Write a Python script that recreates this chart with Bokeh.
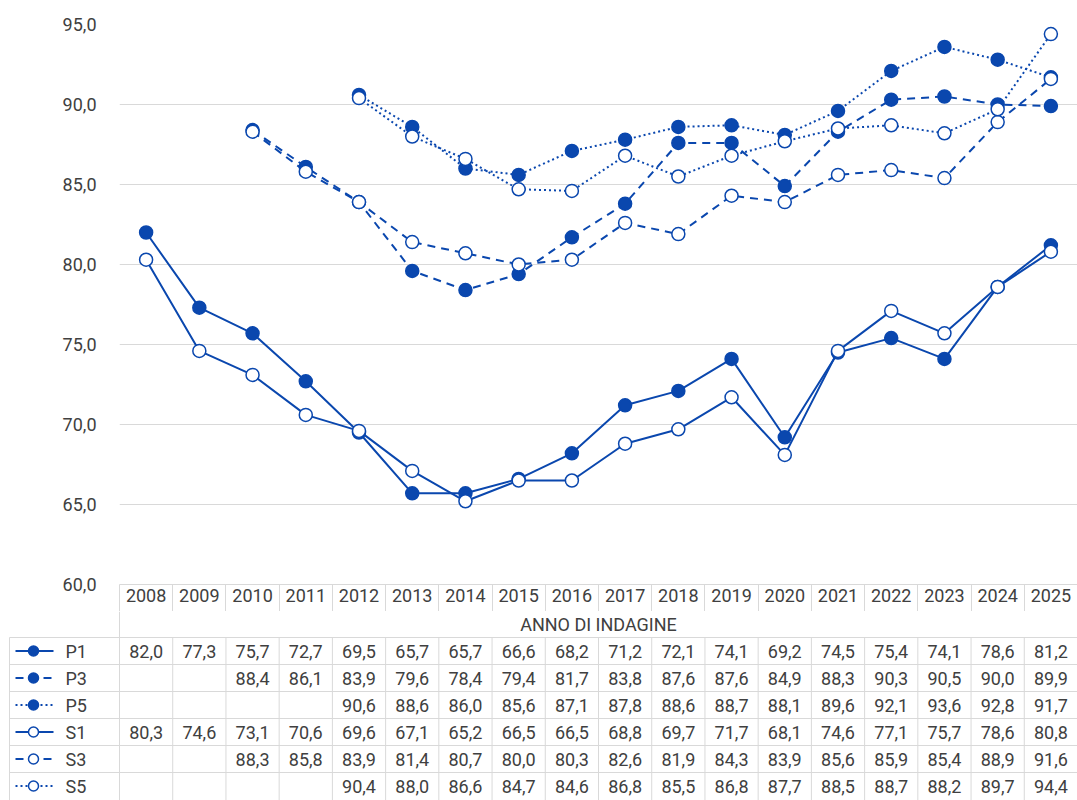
import math
from bokeh.plotting import figure
from bokeh.layouts import column
from bokeh.models import (Range1d, FixedTicker, CustomJSTickFormatter)
from bokeh.core.properties import value
from bokeh.embed import file_html
from bokeh.resources import INLINE

NaN = float("nan")

years = [2008, 2009, 2010, 2011, 2012, 2013, 2014, 2015, 2016, 2017, 2018,
         2019, 2020, 2021, 2022, 2023, 2024, 2025]
P1 = [82.0, 77.3, 75.7, 72.7, 69.5, 65.7, 65.7, 66.6, 68.2, 71.2, 72.1, 74.1, 69.2, 74.5, 75.4, 74.1, 78.6, 81.2]
P3 = [NaN, NaN, 88.4, 86.1, 83.9, 79.6, 78.4, 79.4, 81.7, 83.8, 87.6, 87.6, 84.9, 88.3, 90.3, 90.5, 90.0, 89.9]
P5 = [NaN, NaN, NaN, NaN, 90.6, 88.6, 86.0, 85.6, 87.1, 87.8, 88.6, 88.7, 88.1, 89.6, 92.1, 93.6, 92.8, 91.7]
S1 = [80.3, 74.6, 73.1, 70.6, 69.6, 67.1, 65.2, 66.5, 66.5, 68.8, 69.7, 71.7, 68.1, 74.6, 77.1, 75.7, 78.6, 80.8]
S3 = [NaN, NaN, 88.3, 85.8, 83.9, 81.4, 80.7, 80.0, 80.3, 82.6, 81.9, 84.3, 83.9, 85.6, 85.9, 85.4, 88.9, 91.6]
S5 = [NaN, NaN, NaN, NaN, 90.4, 88.0, 86.6, 84.7, 84.6, 86.8, 85.5, 86.8, 87.7, 88.5, 88.7, 88.2, 89.7, 94.4]
series_names = ["P1", "P3", "P5", "S1", "S3", "S5"]
series_values = [P1, P3, P5, S1, S3, S5]
y_ticks = [60, 65, 70, 75, 80, 85, 90, 95]
x_title = "ANNO DI INDAGINE"

BLUE = "#0A47AE"
GRID = "#D9D9D9"
TXT = "#404040"
FONT = "Roboto"
FS = "18px"

dash_of = {"1": "solid", "3": "8 6", "5": "2 3"}

W = 1077
LEFT = 119
TOP = 24
FRAME_H = 560
XAX_H = 27
CH_H = TOP + FRAME_H + XAX_H
TB_H = 800 - CH_H
HDR = 26.0
ROW = 27.0
n = len(years)
xs = list(range(n))
colw = (W - LEFT) / n

# ---------------- chart ----------------
p = figure(width=W, height=CH_H, output_backend="svg", toolbar_location=None,
           x_range=Range1d(-0.5, n - 0.5), y_range=Range1d(60, 95),
           min_border_left=LEFT, min_border_right=0, min_border_top=TOP,
           min_border_bottom=XAX_H)
p.frame_align = False
p.outline_line_color = None
p.background_fill_color = "white"
p.border_fill_color = "white"

p.yaxis.ticker = FixedTicker(ticks=y_ticks)
p.yaxis.formatter = CustomJSTickFormatter(code="return tick.toFixed(1).replace('.', ',');")
p.yaxis.axis_line_color = None
p.yaxis.major_tick_line_color = None
p.yaxis.minor_tick_line_color = None
p.yaxis.major_label_standoff = 17
p.yaxis.major_label_text_font = FONT
p.yaxis.major_label_text_font_size = FS
p.yaxis.major_label_text_color = TXT

p.ygrid.ticker = FixedTicker(ticks=y_ticks)
p.ygrid.grid_line_color = GRID
p.xgrid.grid_line_color = None

p.xaxis.ticker = FixedTicker(ticks=xs, minor_ticks=[i - 0.5 for i in range(n + 1)])
p.xaxis.major_label_overrides = {i: str(y) for i, y in enumerate(years)}
p.xaxis.axis_line_color = GRID
p.xaxis.major_tick_line_color = None
p.xaxis.minor_tick_line_color = GRID
p.xaxis.minor_tick_out = XAX_H
p.xaxis.minor_tick_in = 0
p.xaxis.major_label_standoff = -23
p.xaxis.major_label_text_font = FONT
p.xaxis.major_label_text_font_size = FS
p.xaxis.major_label_text_color = TXT

for name, vals in zip(series_names, series_values):
    p.line(xs, vals, line_color=BLUE, line_width=2, line_dash=dash_of[name[1]])
for name, vals in zip(series_names, series_values):
    filled = name[0] == "P"
    pts = [(x, v) for x, v in zip(xs, vals) if not math.isnan(v)]
    p.scatter([a for a, _ in pts], [b for _, b in pts], size=13,
              fill_color=BLUE if filled else "white", line_color=BLUE,
              line_width=1.5)

# ---------------- table ----------------
x0 = -0.5 - LEFT / colw
hdr = HDR / ROW
y_top = -hdr
y_bot = (TB_H - HDR) / ROW
t = figure(width=W, height=TB_H, output_backend="svg", toolbar_location=None,
           x_range=Range1d(x0, n - 0.5), y_range=Range1d(y_bot, y_top),
           min_border=0)
t.frame_align = False
t.outline_line_color = None
t.axis.visible = False
t.grid.visible = False
t.background_fill_color = "white"
t.border_fill_color = "white"

def px(v):
    return x0 + v / colw

leg_left = px(9)
nrows = len(series_names)

hy = list(range(nrows))
t.segment(x0=[leg_left] * len(hy), y0=hy, x1=[n - 0.5] * len(hy), y1=hy,
          line_color=GRID, line_width=1)
vx = [leg_left] + [i - 0.5 for i in range(n + 1)]
t.segment(x0=vx, y0=[0] * len(vx), x1=vx, y1=[y_bot] * len(vx),
          line_color=GRID, line_width=1)
t.segment(x0=[-0.5], y0=[y_top], x1=[-0.5], y1=[0], line_color=GRID, line_width=1)

t.text(x=[(n - 1) / 2], y=[-hdr / 2], text=[x_title], text_align="center",
       text_baseline="middle", text_font=value(FONT), text_font_size=FS,
       text_color=TXT)

cx, cy, ct = [], [], []
for r, vals in enumerate(series_values):
    for i, v in enumerate(vals):
        if not math.isnan(v):
            cx.append(i)
            cy.append(r + 0.5)
            ct.append(f"{v:.1f}".replace(".", ","))
t.text(x=cx, y=cy, text=ct, text_align="center", text_baseline="middle",
       text_font=value(FONT), text_font_size=FS, text_color=TXT)

k0, k1, km, lx = px(15), px(53), px(33), px(65)
for r, name in enumerate(series_names):
    filled = name[0] == "P"
    t.line([k0, k1], [r + 0.5, r + 0.5], line_color=BLUE, line_width=2,
           line_dash=dash_of[name[1]])
    t.scatter([km], [r + 0.5], size=10, fill_color=BLUE if filled else "white",
              line_color=BLUE, line_width=1.5)
t.text(x=[lx] * nrows, y=[r + 0.5 for r in range(nrows)], text=series_names,
       text_align="left", text_baseline="middle", text_font=value(FONT),
       text_font_size=FS, text_color=TXT)

layout = column(p, t, spacing=0)
open("out.html", "w").write(file_html(layout, INLINE))
